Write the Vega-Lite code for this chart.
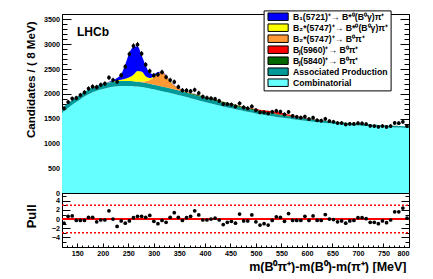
{
"$schema": "https://vega.github.io/schema/vega-lite/v6.json",
"padding": {"left": 24, "top": 9, "right": 0, "bottom": 0},
"background": "white",
"spacing": 0,
"bounds": "flush",
"config": {
  "view": {"stroke": "black", "strokeWidth": 1},
  "font": "Liberation Sans",
  "axis": {"grid": false, "domain": false, "labelColor": "black", "titleColor": "black", "tickColor": "black", "labelFont": "Liberation Sans", "titleFont": "Liberation Sans", "labelFontWeight": "bold", "titleFontWeight": "bold", "labelFontSize": 7.2, "tickWidth": 1}
},
"resolve": {"legend": {"color": "independent"}},
"datasets": {
"hist": [
{"m":124,"n":1705,"e":41.3,"p":-0.9},{"m":132,"n":1834,"e":42.8,"p":0.6},{"m":140,"n":1904,"e":43.6,"p":0.7},{"m":148,"n":1918,"e":43.8,"p":-0.3},{"m":156,"n":1975,"e":44.4,"p":-0.3},{"m":164,"n":2027,"e":45.0,"p":-0.3},{"m":172,"n":2106,"e":45.9,"p":0.4},{"m":180,"n":2147,"e":46.3,"p":0.4},{"m":188,"n":2135,"e":46.2,"p":-0.6},{"m":196,"n":2182,"e":46.7,"p":-0.2},
{"m":204,"n":2206,"e":47.0,"p":-0.2},{"m":212,"n":2329,"e":48.3,"p":1.8},{"m":220,"n":2278,"e":47.7,"p":0.0},{"m":228,"n":2244,"e":47.4,"p":-1.6},{"m":236,"n":2375,"e":48.7,"p":-0.4},{"m":244,"n":2548,"e":50.5,"p":-0.9},{"m":252,"n":2803,"e":52.9,"p":-0.4},{"m":260,"n":2966,"e":54.5,"p":0.3},{"m":268,"n":2993,"e":54.7,"p":0.6},{"m":276,"n":2810,"e":53.0,"p":0.6},
{"m":284,"n":2589,"e":50.9,"p":0.4},{"m":292,"n":2458,"e":49.6,"p":0.8},{"m":300,"n":2372,"e":48.7,"p":-0.5},{"m":308,"n":2389,"e":48.9,"p":-1.0},{"m":316,"n":2437,"e":49.4,"p":-0.3},{"m":324,"n":2339,"e":48.4,"p":-0.7},{"m":332,"n":2278,"e":47.7,"p":0.4},{"m":340,"n":2241,"e":47.3,"p":1.4},{"m":348,"n":2140,"e":46.3,"p":0.4},{"m":356,"n":2072,"e":45.5,"p":-0.3},
{"m":364,"n":2068,"e":45.5,"p":0.3},{"m":372,"n":2054,"e":45.3,"p":0.6},{"m":380,"n":2080,"e":45.6,"p":1.8},{"m":388,"n":2016,"e":44.9,"p":0.9},{"m":396,"n":1943,"e":44.1,"p":-0.2},{"m":404,"n":1921,"e":43.8,"p":-0.2},{"m":412,"n":1909,"e":43.7,"p":0.0},{"m":420,"n":1896,"e":43.5,"p":0.2},{"m":428,"n":1857,"e":43.1,"p":-0.2},{"m":436,"n":1793,"e":42.3,"p":-1.2},
{"m":444,"n":1792,"e":42.3,"p":-0.7},{"m":452,"n":1781,"e":42.2,"p":-0.5},{"m":460,"n":1745,"e":41.8,"p":-0.9},{"m":468,"n":1809,"e":42.5,"p":1.1},{"m":476,"n":1727,"e":41.6,"p":-0.4},{"m":484,"n":1709,"e":41.3,"p":-0.4},{"m":492,"n":1747,"e":41.8,"p":0.9},{"m":500,"n":1669,"e":40.9,"p":-0.6},{"m":508,"n":1628,"e":40.3,"p":-1.3},{"m":516,"n":1627,"e":40.3,"p":-1.0},
{"m":524,"n":1605,"e":40.1,"p":-1.3},{"m":532,"n":1637,"e":40.5,"p":-0.3},{"m":540,"n":1658,"e":40.7,"p":0.5},{"m":548,"n":1639,"e":40.5,"p":0.4},{"m":556,"n":1586,"e":39.8,"p":-0.5},{"m":564,"n":1634,"e":40.4,"p":1.2},{"m":572,"n":1554,"e":39.4,"p":-0.3},{"m":580,"n":1536,"e":39.2,"p":-0.3},{"m":588,"n":1521,"e":39.0,"p":-0.3},{"m":596,"n":1540,"e":39.2,"p":0.6},
{"m":604,"n":1492,"e":38.6,"p":-0.3},{"m":612,"n":1519,"e":39.0,"p":0.7},{"m":620,"n":1467,"e":38.3,"p":-0.3},{"m":628,"n":1459,"e":38.2,"p":-0.3},{"m":636,"n":1497,"e":38.7,"p":1.0},{"m":644,"n":1450,"e":38.1,"p":0.0},{"m":652,"n":1437,"e":37.9,"p":-0.1},{"m":660,"n":1410,"e":37.5,"p":-0.6},{"m":668,"n":1411,"e":37.6,"p":-0.4},{"m":676,"n":1383,"e":37.2,"p":-0.9},
{"m":684,"n":1395,"e":37.3,"p":-0.4},{"m":692,"n":1393,"e":37.3,"p":-0.3},{"m":700,"n":1409,"e":37.5,"p":0.3},{"m":708,"n":1403,"e":37.5,"p":0.3},{"m":716,"n":1390,"e":37.3,"p":0.1},{"m":724,"n":1355,"e":36.8,"p":-0.7},{"m":732,"n":1349,"e":36.7,"p":-0.7},{"m":740,"n":1334,"e":36.5,"p":-1.0},{"m":748,"n":1351,"e":36.8,"p":-0.4},{"m":756,"n":1332,"e":36.5,"p":-0.8},
{"m":764,"n":1350,"e":36.7,"p":-0.2},{"m":772,"n":1413,"e":37.6,"p":1.6},{"m":780,"n":1409,"e":37.5,"p":1.6},{"m":788,"n":1435,"e":37.9,"p":2.4},{"m":796,"n":1350,"e":36.7,"p":0.2}
],
"curves": [
{"m":120,"a_comb":1620,"b_assoc":90,"c_5840":0,"d_5960":0,"e_b2pi":0,"f_b2g":0,"g_b1":0},
{"m":124,"a_comb":1652,"b_assoc":91,"c_5840":0,"d_5960":0,"e_b2pi":0,"f_b2g":0,"g_b1":0},
{"m":132,"a_comb":1716,"b_assoc":92,"c_5840":0,"d_5960":0,"e_b2pi":0,"f_b2g":0,"g_b1":0},
{"m":140,"a_comb":1780,"b_assoc":94,"c_5840":0,"d_5960":0,"e_b2pi":0,"f_b2g":0,"g_b1":0},
{"m":148,"a_comb":1836,"b_assoc":95,"c_5840":0,"d_5960":0,"e_b2pi":0,"f_b2g":0,"g_b1":0},
{"m":156,"a_comb":1892,"b_assoc":96,"c_5840":0,"d_5960":0,"e_b2pi":0,"f_b2g":0,"g_b1":0},
{"m":164,"a_comb":1944,"b_assoc":97,"c_5840":0,"d_5960":0,"e_b2pi":0,"f_b2g":0,"g_b1":0},
{"m":172,"a_comb":1990,"b_assoc":98,"c_5840":0,"d_5960":0,"e_b2pi":0,"f_b2g":0,"g_b1":0},
{"m":180,"a_comb":2030,"b_assoc":99,"c_5840":0,"d_5960":0,"e_b2pi":0,"f_b2g":0,"g_b1":0},
{"m":188,"a_comb":2062,"b_assoc":99,"c_5840":0,"d_5960":0,"e_b2pi":0,"f_b2g":0,"g_b1":2},
{"m":196,"a_comb":2088,"b_assoc":100,"c_5840":0,"d_5960":0,"e_b2pi":0,"f_b2g":0,"g_b1":3},
{"m":204,"a_comb":2110,"b_assoc":100,"c_5840":0,"d_5960":0,"e_b2pi":0,"f_b2g":0,"g_b1":5},
{"m":212,"a_comb":2129,"b_assoc":100,"c_5840":0,"d_5960":0,"e_b2pi":0,"f_b2g":5,"g_b1":10},
{"m":220,"a_comb":2143,"b_assoc":100,"c_5840":0,"d_5960":0,"e_b2pi":0,"f_b2g":10,"g_b1":25},
{"m":228,"a_comb":2153,"b_assoc":100,"c_5840":0,"d_5960":0,"e_b2pi":0,"f_b2g":18,"g_b1":50},
{"m":236,"a_comb":2158,"b_assoc":99,"c_5840":0,"d_5960":0,"e_b2pi":0,"f_b2g":28,"g_b1":110},
{"m":244,"a_comb":2160,"b_assoc":99,"c_5840":0,"d_5960":0,"e_b2pi":0,"f_b2g":45,"g_b1":290},
{"m":252,"a_comb":2159,"b_assoc":99,"c_5840":0,"d_5960":0,"e_b2pi":1,"f_b2g":75,"g_b1":490},
{"m":260,"a_comb":2155,"b_assoc":98,"c_5840":0,"d_5960":0,"e_b2pi":2,"f_b2g":130,"g_b1":565},
{"m":268,"a_comb":2147,"b_assoc":98,"c_5840":0,"d_5960":0,"e_b2pi":5,"f_b2g":210,"g_b1":500},
{"m":276,"a_comb":2136,"b_assoc":97,"c_5840":0,"d_5960":0,"e_b2pi":15,"f_b2g":200,"g_b1":330},
{"m":284,"a_comb":2123,"b_assoc":96,"c_5840":0,"d_5960":0,"e_b2pi":35,"f_b2g":100,"g_b1":215},
{"m":292,"a_comb":2108,"b_assoc":96,"c_5840":0,"d_5960":0,"e_b2pi":75,"f_b2g":40,"g_b1":100},
{"m":300,"a_comb":2090,"b_assoc":95,"c_5840":1,"d_5960":0,"e_b2pi":150,"f_b2g":15,"g_b1":45},
{"m":308,"a_comb":2072,"b_assoc":94,"c_5840":1,"d_5960":0,"e_b2pi":240,"f_b2g":6,"g_b1":25},
{"m":316,"a_comb":2054,"b_assoc":93,"c_5840":2,"d_5960":0,"e_b2pi":285,"f_b2g":3,"g_b1":15},
{"m":324,"a_comb":2035,"b_assoc":93,"c_5840":3,"d_5960":0,"e_b2pi":230,"f_b2g":2,"g_b1":10},
{"m":332,"a_comb":2015,"b_assoc":92,"c_5840":4,"d_5960":0,"e_b2pi":140,"f_b2g":1,"g_b1":7},
{"m":340,"a_comb":1995,"b_assoc":91,"c_5840":5,"d_5960":0,"e_b2pi":80,"f_b2g":0,"g_b1":5},
{"m":348,"a_comb":1975,"b_assoc":90,"c_5840":8,"d_5960":0,"e_b2pi":45,"f_b2g":0,"g_b1":4},
{"m":356,"a_comb":1955,"b_assoc":89,"c_5840":11,"d_5960":0,"e_b2pi":28,"f_b2g":0,"g_b1":3},
{"m":364,"a_comb":1934,"b_assoc":87,"c_5840":13,"d_5960":0,"e_b2pi":18,"f_b2g":0,"g_b1":2},
{"m":372,"a_comb":1912,"b_assoc":85,"c_5840":16,"d_5960":0,"e_b2pi":12,"f_b2g":0,"g_b1":2},
{"m":380,"a_comb":1890,"b_assoc":83,"c_5840":18,"d_5960":0,"e_b2pi":8,"f_b2g":0,"g_b1":1},
{"m":388,"a_comb":1868,"b_assoc":81,"c_5840":20,"d_5960":0,"e_b2pi":6,"f_b2g":0,"g_b1":1},
{"m":396,"a_comb":1846,"b_assoc":79,"c_5840":21,"d_5960":0,"e_b2pi":5,"f_b2g":0,"g_b1":1},
{"m":404,"a_comb":1825,"b_assoc":77,"c_5840":23,"d_5960":0,"e_b2pi":4,"f_b2g":0,"g_b1":1},
{"m":412,"a_comb":1805,"b_assoc":75,"c_5840":24,"d_5960":0,"e_b2pi":4,"f_b2g":0,"g_b1":1},
{"m":420,"a_comb":1785,"b_assoc":73,"c_5840":25,"d_5960":0,"e_b2pi":3,"f_b2g":0,"g_b1":1},
{"m":428,"a_comb":1765,"b_assoc":72,"c_5840":25,"d_5960":0,"e_b2pi":3,"f_b2g":0,"g_b1":1},
{"m":436,"a_comb":1745,"b_assoc":70,"c_5840":26,"d_5960":0,"e_b2pi":3,"f_b2g":0,"g_b1":1},
{"m":444,"a_comb":1726,"b_assoc":67,"c_5840":26,"d_5960":0,"e_b2pi":2,"f_b2g":0,"g_b1":1},
{"m":452,"a_comb":1708,"b_assoc":65,"c_5840":25,"d_5960":2,"e_b2pi":2,"f_b2g":0,"g_b1":0},
{"m":460,"a_comb":1690,"b_assoc":63,"c_5840":25,"d_5960":3,"e_b2pi":2,"f_b2g":0,"g_b1":0},
{"m":468,"a_comb":1672,"b_assoc":61,"c_5840":24,"d_5960":4,"e_b2pi":2,"f_b2g":0,"g_b1":0},
{"m":476,"a_comb":1654,"b_assoc":60,"c_5840":23,"d_5960":5,"e_b2pi":2,"f_b2g":0,"g_b1":0},
{"m":484,"a_comb":1637,"b_assoc":58,"c_5840":22,"d_5960":7,"e_b2pi":2,"f_b2g":0,"g_b1":0},
{"m":492,"a_comb":1621,"b_assoc":57,"c_5840":21,"d_5960":9,"e_b2pi":2,"f_b2g":0,"g_b1":0},
{"m":500,"a_comb":1605,"b_assoc":55,"c_5840":20,"d_5960":12,"e_b2pi":2,"f_b2g":0,"g_b1":0},
{"m":508,"a_comb":1590,"b_assoc":54,"c_5840":19,"d_5960":17,"e_b2pi":1,"f_b2g":0,"g_b1":0},
{"m":516,"a_comb":1575,"b_assoc":52,"c_5840":18,"d_5960":22,"e_b2pi":1,"f_b2g":0,"g_b1":0},
{"m":524,"a_comb":1561,"b_assoc":51,"c_5840":17,"d_5960":28,"e_b2pi":1,"f_b2g":0,"g_b1":0},
{"m":532,"a_comb":1548,"b_assoc":50,"c_5840":16,"d_5960":34,"e_b2pi":1,"f_b2g":0,"g_b1":0},
{"m":540,"a_comb":1535,"b_assoc":49,"c_5840":15,"d_5960":38,"e_b2pi":1,"f_b2g":0,"g_b1":0},
{"m":548,"a_comb":1523,"b_assoc":47,"c_5840":14,"d_5960":38,"e_b2pi":1,"f_b2g":0,"g_b1":0},
{"m":556,"a_comb":1511,"b_assoc":46,"c_5840":13,"d_5960":35,"e_b2pi":1,"f_b2g":0,"g_b1":0},
{"m":564,"a_comb":1500,"b_assoc":45,"c_5840":11,"d_5960":29,"e_b2pi":1,"f_b2g":0,"g_b1":0},
{"m":572,"a_comb":1489,"b_assoc":44,"c_5840":10,"d_5960":22,"e_b2pi":1,"f_b2g":0,"g_b1":0},
{"m":580,"a_comb":1478,"b_assoc":44,"c_5840":9,"d_5960":16,"e_b2pi":1,"f_b2g":0,"g_b1":0},
{"m":588,"a_comb":1468,"b_assoc":43,"c_5840":8,"d_5960":13,"e_b2pi":1,"f_b2g":0,"g_b1":0},
{"m":596,"a_comb":1458,"b_assoc":42,"c_5840":7,"d_5960":9,"e_b2pi":1,"f_b2g":0,"g_b1":0},
{"m":604,"a_comb":1448,"b_assoc":42,"c_5840":7,"d_5960":7,"e_b2pi":0,"f_b2g":0,"g_b1":0},
{"m":612,"a_comb":1439,"b_assoc":41,"c_5840":6,"d_5960":6,"e_b2pi":0,"f_b2g":0,"g_b1":0},
{"m":620,"a_comb":1430,"b_assoc":40,"c_5840":5,"d_5960":4,"e_b2pi":0,"f_b2g":0,"g_b1":0},
{"m":628,"a_comb":1422,"b_assoc":40,"c_5840":5,"d_5960":3,"e_b2pi":0,"f_b2g":0,"g_b1":0},
{"m":636,"a_comb":1414,"b_assoc":39,"c_5840":4,"d_5960":2,"e_b2pi":0,"f_b2g":0,"g_b1":0},
{"m":644,"a_comb":1406,"b_assoc":38,"c_5840":4,"d_5960":2,"e_b2pi":0,"f_b2g":0,"g_b1":0},
{"m":652,"a_comb":1399,"b_assoc":38,"c_5840":3,"d_5960":1,"e_b2pi":0,"f_b2g":0,"g_b1":0},
{"m":660,"a_comb":1392,"b_assoc":37,"c_5840":3,"d_5960":1,"e_b2pi":0,"f_b2g":0,"g_b1":0},
{"m":668,"a_comb":1386,"b_assoc":37,"c_5840":3,"d_5960":0,"e_b2pi":0,"f_b2g":0,"g_b1":0},
{"m":676,"a_comb":1379,"b_assoc":36,"c_5840":2,"d_5960":0,"e_b2pi":0,"f_b2g":0,"g_b1":0},
{"m":684,"a_comb":1373,"b_assoc":35,"c_5840":2,"d_5960":0,"e_b2pi":0,"f_b2g":0,"g_b1":0},
{"m":692,"a_comb":1367,"b_assoc":35,"c_5840":2,"d_5960":0,"e_b2pi":0,"f_b2g":0,"g_b1":0},
{"m":700,"a_comb":1362,"b_assoc":34,"c_5840":2,"d_5960":0,"e_b2pi":0,"f_b2g":0,"g_b1":0},
{"m":708,"a_comb":1357,"b_assoc":34,"c_5840":1,"d_5960":0,"e_b2pi":0,"f_b2g":0,"g_b1":0},
{"m":716,"a_comb":1352,"b_assoc":33,"c_5840":1,"d_5960":0,"e_b2pi":0,"f_b2g":0,"g_b1":0},
{"m":724,"a_comb":1347,"b_assoc":33,"c_5840":1,"d_5960":0,"e_b2pi":0,"f_b2g":0,"g_b1":0},
{"m":732,"a_comb":1342,"b_assoc":32,"c_5840":1,"d_5960":0,"e_b2pi":0,"f_b2g":0,"g_b1":0},
{"m":740,"a_comb":1338,"b_assoc":32,"c_5840":1,"d_5960":0,"e_b2pi":0,"f_b2g":0,"g_b1":0},
{"m":748,"a_comb":1334,"b_assoc":31,"c_5840":1,"d_5960":0,"e_b2pi":0,"f_b2g":0,"g_b1":0},
{"m":756,"a_comb":1330,"b_assoc":31,"c_5840":1,"d_5960":0,"e_b2pi":0,"f_b2g":0,"g_b1":0},
{"m":764,"a_comb":1326,"b_assoc":30,"c_5840":1,"d_5960":0,"e_b2pi":0,"f_b2g":0,"g_b1":0},
{"m":772,"a_comb":1323,"b_assoc":30,"c_5840":1,"d_5960":0,"e_b2pi":0,"f_b2g":0,"g_b1":0},
{"m":780,"a_comb":1320,"b_assoc":29,"c_5840":1,"d_5960":0,"e_b2pi":0,"f_b2g":0,"g_b1":0},
{"m":788,"a_comb":1317,"b_assoc":29,"c_5840":1,"d_5960":0,"e_b2pi":0,"f_b2g":0,"g_b1":0},
{"m":796,"a_comb":1314,"b_assoc":28,"c_5840":1,"d_5960":0,"e_b2pi":0,"f_b2g":0,"g_b1":0},
{"m":800,"a_comb":1313,"b_assoc":28,"c_5840":1,"d_5960":0,"e_b2pi":0,"f_b2g":0,"g_b1":0}
]
},
"vconcat": [
{
  "width": 347, "height": 179,
  "resolve": {"axis": {"x": "independent", "y": "independent"}},
  "layer": [
    {
      "data": {"name": "curves"},
      "transform": [{"fold": ["a_comb","b_assoc","c_5840","d_5960","e_b2pi","f_b2g","g_b1"], "as": ["key","value"]}],
      "mark": {"type": "area", "interpolate": "monotone", "opacity": 1},
      "encoding": {
        "x": {"field": "m", "type": "quantitative", "scale": {"domain": [120,800], "nice": false, "zero": false},
              "axis": {"orient": "bottom", "labels": false, "tickSize": -6, "values": [150,200,250,300,350,400,450,500,550,600,650,700,750,800], "title": null}},
        "y": {"field": "value", "type": "quantitative", "stack": "zero", "scale": {"domain": [0,3610], "nice": false, "zero": false},
              "axis": {"orient": "left", "ticks": false, "tickSize": 0, "values": [0,500,1000,1500,2000,2500,3000,3500], "format": "d", "labelPadding": 2.4,
                       "title": "Candidates / ( 8 MeV)", "titleX": -31, "titleY": 7, "titleAngle": -90, "titleAlign": "right", "titleBaseline": "middle", "titleFontSize": 11.6}},
        "color": {"field": "key", "type": "nominal",
                  "scale": {"domain": ["g_b1","f_b2g","e_b2pi","d_5960","c_5840","b_assoc","a_comb"], "range": ["#0000ff","#ffff00","#ff9933","#ff0000","#006600","#009999","#66ffff"]},
                  "legend": {"orient": "none", "legendX": 201.6, "legendY": -3.6, "title": null,
                             "symbolType": "M-2.7,-1L2.7,-1L2.7,1L-2.7,1Z", "symbolSize": 56, "symbolStrokeColor": "black", "symbolStrokeWidth": 1, "symbolOpacity": 1,
                             "symbolOffset": 8.2, "labelOffset": 10.4, "rowPadding": -2.0, "padding": 1.8,
                             "labelFont": "Liberation Sans", "labelFontSize": 8.7, "labelFontWeight": "bold", "labelColor": "black", "labelLimit": 300,
                             "strokeColor": "black", "fillColor": "white",
                             "labelExpr": "(datum.label == 'a_comb' ? 'Combinatorial' : datum.label == 'b_assoc' ? 'Associated Production' : datum.label == 'c_5840' ? 'Bⱼ(5840)⁺→ B⁰π⁺' : datum.label == 'd_5960' ? 'Bⱼ(5960)⁺→ B⁰π⁺' : datum.label == 'e_b2pi' ? 'B₂*(5747)⁺→ B⁰π⁺' : datum.label == 'f_b2g' ? 'B₂*(5747)⁺→ B*⁰(B⁰γ)π⁺' : 'B₁(5721)⁺→ B*⁰(B⁰γ)π⁺') + '\u00a0\u00a0'"}},
        "order": {"field": "key", "type": "ordinal", "sort": "ascending"}
      }
    },
    {
      "data": {"name": "hist"},
      "mark": {"type": "errorbar", "color": "black", "thickness": 1},
      "encoding": {
        "x": {"field": "m", "type": "quantitative", "scale": {"domain": [120,800], "nice": false, "zero": false},
              "axis": {"orient": "bottom", "labels": false, "tickSize": -3, "values": [120,130,140,150,160,170,180,190,200,210,220,230,240,250,260,270,280,290,300,310,320,330,340,350,360,370,380,390,400,410,420,430,440,450,460,470,480,490,500,510,520,530,540,550,560,570,580,590,600,610,620,630,640,650,660,670,680,690,700,710,720,730,740,750,760,770,780,790,800], "title": null}},
        "y": {"field": "n", "type": "quantitative", "scale": {"domain": [0,3610], "nice": false, "zero": false},
              "axis": {"orient": "left", "labels": false, "tickSize": -9, "values": [0,500,1000,1500,2000,2500,3000,3500], "title": null}},
        "yError": {"field": "e"}
      }
    },
    {
      "data": {"name": "hist"},
      "mark": {"type": "errorbar", "color": "black", "thickness": 1},
      "encoding": {
        "x": {"field": "m", "type": "quantitative", "scale": {"domain": [120,800], "nice": false, "zero": false}, "axis": null},
        "xError": {"value": 4},
        "y": {"field": "n", "type": "quantitative", "scale": {"domain": [0,3610], "nice": false, "zero": false},
              "axis": {"orient": "left", "labels": false, "tickSize": -5, "values": [0,100,200,300,400,500,600,700,800,900,1000,1100,1200,1300,1400,1500,1600,1700,1800,1900,2000,2100,2200,2300,2400,2500,2600,2700,2800,2900,3000,3100,3200,3300,3400,3500,3600], "title": null}}
      }
    },
    {
      "data": {"name": "hist"},
      "mark": {"type": "point", "filled": true, "shape": "circle", "size": 14, "color": "black", "opacity": 1},
      "encoding": {
        "x": {"field": "m", "type": "quantitative", "scale": {"domain": [120,800], "nice": false, "zero": false}, "axis": null},
        "y": {"field": "n", "type": "quantitative", "scale": {"domain": [0,3610], "nice": false, "zero": false},
              "axis": {"orient": "right", "labels": false, "tickSize": -9, "values": [0,500,1000,1500,2000,2500,3000,3500], "title": null}}
      }
    },
    {
      "data": {"values": [{}]},
      "mark": {"type": "text", "text": "LHCb", "align": "left", "baseline": "middle", "font": "Liberation Sans", "fontWeight": "bold", "fontSize": 12, "color": "black"},
      "encoding": {
        "x": {"datum": 149.4, "type": "quantitative", "scale": {"domain": [120,800], "nice": false, "zero": false}, "axis": null},
        "y": {"datum": 3244, "type": "quantitative", "scale": {"domain": [0,3610], "nice": false, "zero": false},
              "axis": {"orient": "right", "labels": false, "tickSize": -5, "values": [0,100,200,300,400,500,600,700,800,900,1000,1100,1200,1300,1400,1500,1600,1700,1800,1900,2000,2100,2200,2300,2400,2500,2600,2700,2800,2900,3000,3100,3200,3300,3400,3500,3600], "title": null}}
      }
    }
  ]
},
{
  "width": 347, "height": 54,
  "resolve": {"axis": {"x": "independent", "y": "independent"}},
  "layer": [
    {
      "data": {"values": [{}]},
      "mark": {"type": "rule", "color": "#ff0000", "strokeWidth": 2},
      "encoding": {
        "x": {"datum": 120, "type": "quantitative", "scale": {"domain": [120,800], "nice": false, "zero": false},
              "axis": {"orient": "bottom", "ticks": false, "tickSize": 0, "values": [150,200,250,300,350,400,450,500,550,600,650,700,750,800], "format": "d", "labelPadding": 2,
                       "title": "m(B⁰π⁺)-m(B⁰)-m(π⁺) [MeV]", "titleFontSize": 12.5, "titleX": 344, "titleY": 19, "titleAlign": "right", "titleBaseline": "middle", "titleAnchor": "end"}},
        "x2": {"datum": 800},
        "y": {"datum": 0, "type": "quantitative", "scale": {"domain": [-6.1,5.7], "nice": false, "zero": false},
              "axis": {"orient": "left", "ticks": false, "tickSize": 0, "values": [-4,-2,0,2,4], "format": "d", "labelPadding": 2.4,
                       "title": "Pull", "titleFontSize": 13, "titleX": -31, "titleY": 11, "titleAngle": -90, "titleAlign": "right", "titleBaseline": "middle"}}
      }
    },
    {
      "data": {"values": [{}]},
      "mark": {"type": "rule", "color": "#ff0000", "strokeWidth": 1.5, "strokeDash": [2,2]},
      "encoding": {
        "x": {"datum": 120, "type": "quantitative", "scale": {"domain": [120,800], "nice": false, "zero": false},
              "axis": {"orient": "bottom", "labels": false, "tickSize": -4, "values": [150,200,250,300,350,400,450,500,550,600,650,700,750,800], "title": null}},
        "x2": {"datum": 800},
        "y": {"datum": 3, "type": "quantitative", "scale": {"domain": [-6.1,5.7], "nice": false, "zero": false},
              "axis": {"orient": "left", "labels": false, "tickSize": -8, "values": [-4,-2,0,2,4], "title": null}}
      }
    },
    {
      "data": {"values": [{}]},
      "mark": {"type": "rule", "color": "#ff0000", "strokeWidth": 1.5, "strokeDash": [2,2]},
      "encoding": {
        "x": {"datum": 120, "type": "quantitative", "scale": {"domain": [120,800], "nice": false, "zero": false},
              "axis": {"orient": "bottom", "labels": false, "tickSize": -2, "values": [120,130,140,150,160,170,180,190,200,210,220,230,240,250,260,270,280,290,300,310,320,330,340,350,360,370,380,390,400,410,420,430,440,450,460,470,480,490,500,510,520,530,540,550,560,570,580,590,600,610,620,630,640,650,660,670,680,690,700,710,720,730,740,750,760,770,780,790,800], "title": null}},
        "x2": {"datum": 800},
        "y": {"datum": -3, "type": "quantitative", "scale": {"domain": [-6.1,5.7], "nice": false, "zero": false},
              "axis": {"orient": "left", "labels": false, "tickSize": -4, "values": [-6,-5,-4,-3,-2,-1,0,1,2,3,4,5], "title": null}}
      }
    },
    {
      "data": {"name": "hist"},
      "mark": {"type": "errorbar", "color": "black", "thickness": 1},
      "encoding": {
        "x": {"field": "m", "type": "quantitative", "scale": {"domain": [120,800], "nice": false, "zero": false}, "axis": null},
        "y": {"field": "p", "type": "quantitative", "scale": {"domain": [-6.1,5.7], "nice": false, "zero": false},
              "axis": {"orient": "right", "labels": false, "tickSize": -8, "values": [-4,-2,0,2,4], "title": null}},
        "yError": {"value": 1}
      }
    },
    {
      "data": {"name": "hist"},
      "mark": {"type": "point", "filled": true, "shape": "circle", "size": 14, "color": "black", "opacity": 1},
      "encoding": {
        "x": {"field": "m", "type": "quantitative", "scale": {"domain": [120,800], "nice": false, "zero": false}, "axis": null},
        "y": {"field": "p", "type": "quantitative", "scale": {"domain": [-6.1,5.7], "nice": false, "zero": false},
              "axis": {"orient": "right", "labels": false, "tickSize": -4, "values": [-6,-5,-4,-3,-2,-1,0,1,2,3,4,5], "title": null}}
      }
    }
  ]
}
]
}
